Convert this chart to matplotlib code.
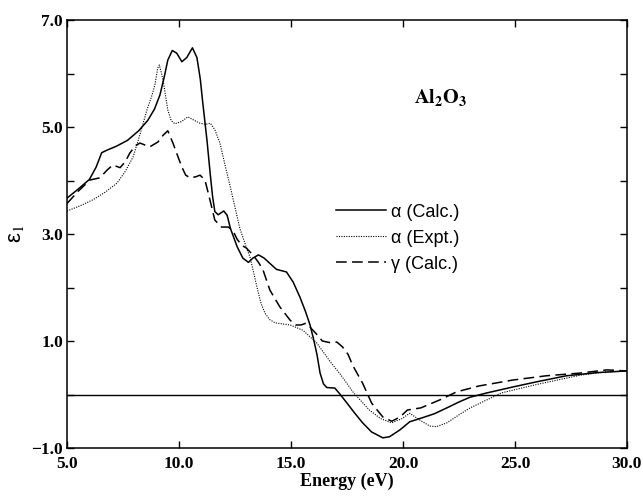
import matplotlib
matplotlib.use("Agg")
import matplotlib.pyplot as plt
from matplotlib.ticker import FixedLocator

plt.rcParams['mathtext.fontset'] = 'stix'

# alpha (Calc.)
calc_a_x = [5.0, 5.5, 6.0, 6.3, 6.55, 6.8, 7.2, 7.7, 8.2, 8.6, 8.9, 9.15, 9.35, 9.5, 9.7, 9.9,
            10.13, 10.35, 10.6, 10.8, 10.95, 11.05, 11.25, 11.4, 11.5, 11.6, 11.75, 12.0, 12.15,
            12.3, 12.6, 12.85, 13.1, 13.3, 13.55, 13.8, 14.06, 14.35, 14.8, 15.1, 15.4, 15.65,
            15.85, 16.0, 16.16, 16.3, 16.45, 16.6, 16.96, 17.2, 17.5, 17.85, 18.2, 18.6, 19.1,
            19.4, 19.87, 20.3, 20.9, 21.4, 21.96, 22.5, 23.0, 23.75, 24.9, 26.0, 27.3, 28.7, 30.0]
calc_a_y = [3.67, 3.84, 4.02, 4.25, 4.52, 4.57, 4.64, 4.75, 4.93, 5.12, 5.33, 5.6, 5.95, 6.25, 6.43, 6.38,
            6.22, 6.3, 6.48, 6.3, 5.9, 5.5, 4.75, 4.1, 3.7, 3.42, 3.36, 3.43, 3.35,
            3.1, 2.76, 2.55, 2.47, 2.55, 2.61, 2.55, 2.45, 2.34, 2.29, 2.1, 1.82, 1.55,
            1.3, 1.05, 0.75, 0.4, 0.2, 0.13, 0.12, 0.0, -0.16, -0.35, -0.53, -0.7, -0.81,
            -0.79, -0.66, -0.51, -0.43, -0.36, -0.25, -0.14, -0.05, 0.03, 0.14, 0.24, 0.35, 0.41, 0.44]

# alpha (Expt.)
expt_a_x = [5.0, 5.6, 6.16, 6.7, 7.23, 7.6, 7.95, 8.25, 8.57, 8.8, 8.93, 9.05, 9.12, 9.22, 9.3, 9.5,
            9.65, 9.82, 10.1, 10.4, 10.7, 10.94, 11.2, 11.4, 11.6, 11.83, 12.05, 12.28, 12.5, 12.72,
            13.0, 13.17, 13.35, 13.48, 13.65, 13.84, 14.05, 14.29, 14.96, 15.54, 16.16, 16.74, 17.2,
            17.8, 18.5, 19.0, 19.5, 19.96, 20.3, 20.76, 21.2, 21.5, 21.96, 22.5, 23.0, 24.4, 26.0,
            27.9, 29.0, 30.0]
expt_a_y = [3.43, 3.53, 3.64, 3.78, 3.95, 4.17, 4.44, 4.85, 5.32, 5.6, 5.8, 6.1, 6.16, 6.0, 5.85, 5.32,
            5.12, 5.06, 5.1, 5.19, 5.12, 5.07, 5.05, 5.07, 4.95, 4.70, 4.3, 3.9, 3.5, 3.1,
            2.76, 2.57, 2.25, 2.01, 1.72, 1.52, 1.4, 1.34, 1.30, 1.2, 0.96, 0.62, 0.38,
            0.03, -0.29, -0.45, -0.53, -0.45, -0.35, -0.48, -0.59, -0.6, -0.53, -0.38, -0.25, 0.03, 0.19,
            0.36, 0.42, 0.44]

# gamma (Calc.)
calc_g_x = [5.0, 5.5, 6.03, 6.47, 6.8, 7.05, 7.37, 7.6, 7.8, 8.05, 8.26, 8.5, 8.7, 9.06, 9.3, 9.5,
            9.73, 9.95, 10.13, 10.3, 10.5, 10.75, 10.94, 11.16, 11.38, 11.6, 11.9, 12.2, 12.4, 12.6,
            12.8, 13.0, 13.3, 13.55, 13.75, 14.06, 14.5, 14.96, 15.2, 15.45, 15.65, 15.85, 16.16,
            16.4, 16.74, 17.05, 17.3, 17.55, 17.75, 18.2, 18.6, 19.1, 19.5, 19.87, 20.2, 20.8,
            21.65, 22.4, 23.4, 24.9, 26.4, 27.9, 29.1, 30.0]
calc_g_y = [3.57, 3.8, 4.01, 4.05, 4.2, 4.29, 4.24, 4.35, 4.51, 4.65, 4.70, 4.66, 4.63, 4.72, 4.85, 4.93,
            4.70, 4.45, 4.25, 4.1, 4.05, 4.07, 4.10, 4.01, 3.64, 3.26, 3.13, 3.13, 3.07, 2.9,
            2.79, 2.74, 2.61, 2.47, 2.33, 1.95, 1.64, 1.39, 1.3, 1.3, 1.33, 1.26, 1.12,
            1.0, 0.97, 0.98, 0.89, 0.75, 0.55, 0.21, -0.16, -0.42, -0.50, -0.42, -0.29, -0.25,
            -0.10, 0.05, 0.16, 0.27, 0.35, 0.40, 0.46, 0.44]

labels = ["\u03b1 (Calc.)", "\u03b1 (Expt.)", "\u03b3 (Calc.)"]
x_ticks = [5, 10, 15, 20, 25, 30]
y_major = [-1, 1, 3, 5, 7]
y_minor = [0, 2, 4, 6]

fig = plt.figure(figsize=(6.43, 4.99), dpi=100)
ax = fig.add_axes([0.1042, 0.1022, 0.8708, 0.8577])

ax.axhline(0, color='black', lw=1.0, zorder=1)
ax.plot(calc_a_x, calc_a_y, color='black', lw=1.1, ls='-', label=labels[0])
ax.plot(expt_a_x, expt_a_y, color='black', lw=0.8, ls=(0, (1, 1.2)), label=labels[1])
ax.plot(calc_g_x, calc_g_y, color='black', lw=1.1, ls=(0, (7, 3.5)), label=labels[2])

ax.set_xlim(5, 30)
ax.set_ylim(-1, 7)
ax.xaxis.set_major_locator(FixedLocator(x_ticks))
ax.yaxis.set_major_locator(FixedLocator(y_major))
ax.yaxis.set_minor_locator(FixedLocator(y_minor))
ax.set_xticklabels([f"{v:.1f}" for v in x_ticks])
ax.set_yticklabels([f"{v:.1f}".replace('-', '\u2212') for v in y_major])
ax.tick_params(which='both', direction='in', top=True, right=True, length=5, width=1.0)
ax.tick_params(axis='x', pad=6)
ax.tick_params(axis='y', pad=3)
for lab in ax.get_xticklabels() + ax.get_yticklabels():
    lab.set_family('Liberation Serif')
    lab.set_fontweight('bold')
    lab.set_fontsize(12.5)
for sp in ax.spines.values():
    sp.set_linewidth(1.1)

ax.set_xlabel("Energy (eV)", family='Liberation Serif', fontweight='bold', fontsize=13, labelpad=0)
ax.set_ylabel("\u03b5$_1$", family='Liberation Sans', fontsize=16, labelpad=4)

ax.text(21.7, 5.55, r"$\mathbf{Al_2O_3}$", fontsize=14.5, ha='center', va='center')

leg = ax.legend(loc='center left', bbox_to_anchor=(0.451, 0.49), frameon=False,
                prop={'family': 'Liberation Sans', 'size': 13}, handlelength=2.8,
                handletextpad=0.25, labelspacing=0.5)

fig.savefig("out.png", dpi=100)
